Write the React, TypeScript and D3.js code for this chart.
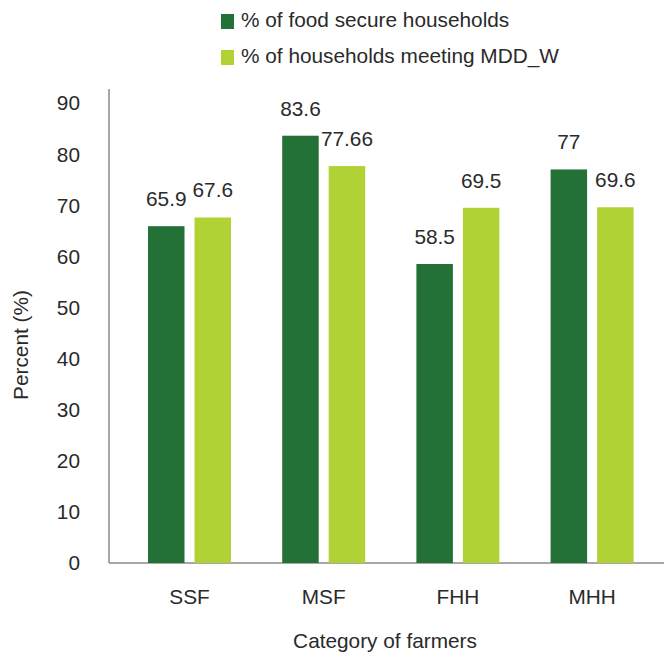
import React, { useRef, useEffect } from 'react';
import * as d3 from 'd3';

const categories = ['SSF', 'MSF', 'FHH', 'MHH'];
const seriesNames = ['% of food secure households', '% of households meeting MDD_W'];
const foodSecure = [65.9, 83.6, 58.5, 77];
const mddW = [67.6, 77.66, 69.5, 69.6];
const yTicks = [0, 10, 20, 30, 40, 50, 60, 70, 80, 90];
const colors = ['#237137', '#b1d235'];

const width = 664;
const height = 654;
const font = '"Liberation Sans", Arial, Helvetica, sans-serif';

const App: React.FC = () => {
  const svgRef = useRef<SVGSVGElement | null>(null);

  useEffect(() => {
    const svg = d3.select(svgRef.current);
    svg.selectAll('*').remove();

    const x0 = d3.scaleBand<string>()
      .domain(categories)
      .range([122.4, 659.2]);

    const groupW = 83;
    const x1 = d3.scaleBand<string>()
      .domain(seriesNames)
      .range([0, groupW])
      .paddingInner(0.215);

    const y = d3.scaleLinear()
      .domain([0, 90])
      .range([563, 103]);

    const rows = categories.map((c, i) => ({ cat: c, values: [foodSecure[i], mddW[i]] }));

    // axes lines
    svg.append('line')
      .attr('x1', 109).attr('x2', 109)
      .attr('y1', 89).attr('y2', y(0))
      .attr('stroke', '#8a8a8a').attr('stroke-width', 1.5);
    svg.append('line')
      .attr('x1', 109).attr('x2', width)
      .attr('y1', y(0)).attr('y2', y(0))
      .attr('stroke', '#8a8a8a').attr('stroke-width', 1.5);

    // y tick labels
    svg.append('g')
      .selectAll('text')
      .data(yTicks)
      .enter()
      .append('text')
      .attr('x', 80)
      .attr('y', d => y(d))
      .attr('dy', '0.36em')
      .attr('text-anchor', 'end')
      .text(d => d);

    const groups = svg.append('g')
      .selectAll('g')
      .data(rows)
      .enter()
      .append('g')
      .attr('transform', d => `translate(${x0(d.cat)! + (x0.bandwidth() - groupW) / 2},0)`);

    groups.selectAll('rect')
      .data(d => d.values.map((v, i) => ({ key: seriesNames[i], v, i })))
      .enter()
      .append('rect')
      .attr('x', d => x1(d.key)!)
      .attr('y', d => y(d.v))
      .attr('width', x1.bandwidth())
      .attr('height', d => y(0) - y(d.v))
      .attr('fill', d => colors[d.i]);

    groups.selectAll('text')
      .data(d => d.values.map((v, i) => ({ key: seriesNames[i], v, i })))
      .enter()
      .append('text')
      .attr('x', d => x1(d.key)! + x1.bandwidth() / 2)
      .attr('y', d => y(d.v) - 20)
      .attr('text-anchor', 'middle')
      .text(d => String(d.v));

    // category labels
    svg.append('g')
      .selectAll('text')
      .data(categories)
      .enter()
      .append('text')
      .attr('x', d => x0(d)! + x0.bandwidth() / 2)
      .attr('y', 604)
      .attr('text-anchor', 'middle')
      .text(d => d);

    svg.append('text')
      .attr('x', 385)
      .attr('y', 648)
      .attr('text-anchor', 'middle')
      .text('Category of farmers');

    svg.append('text')
      .attr('transform', 'translate(28,345) rotate(-90)')
      .attr('text-anchor', 'middle')
      .text('Percent (%)');

    // legend
    const legend = svg.append('g');
    legend.selectAll('rect')
      .data(seriesNames)
      .enter()
      .append('rect')
      .attr('x', 221)
      .attr('y', (d, i) => 14 + i * 36)
      .attr('width', 13)
      .attr('height', 15)
      .attr('fill', (d, i) => colors[i]);
    legend.selectAll('text')
      .data(seriesNames)
      .enter()
      .append('text')
      .attr('x', 241)
      .attr('y', (d, i) => 27 + i * 36)
      .text(d => d);

    svg.selectAll('text')
      .style('font-family', font)
      .style('font-size', '20.8px')
      .attr('fill', '#2a2a2a');
  }, []);

  return (
    <svg
      ref={svgRef}
      width={width}
      height={height}
      style={{ position: 'absolute', left: 0, top: 0, background: '#fff' }}
    />
  );
};

export default App;
